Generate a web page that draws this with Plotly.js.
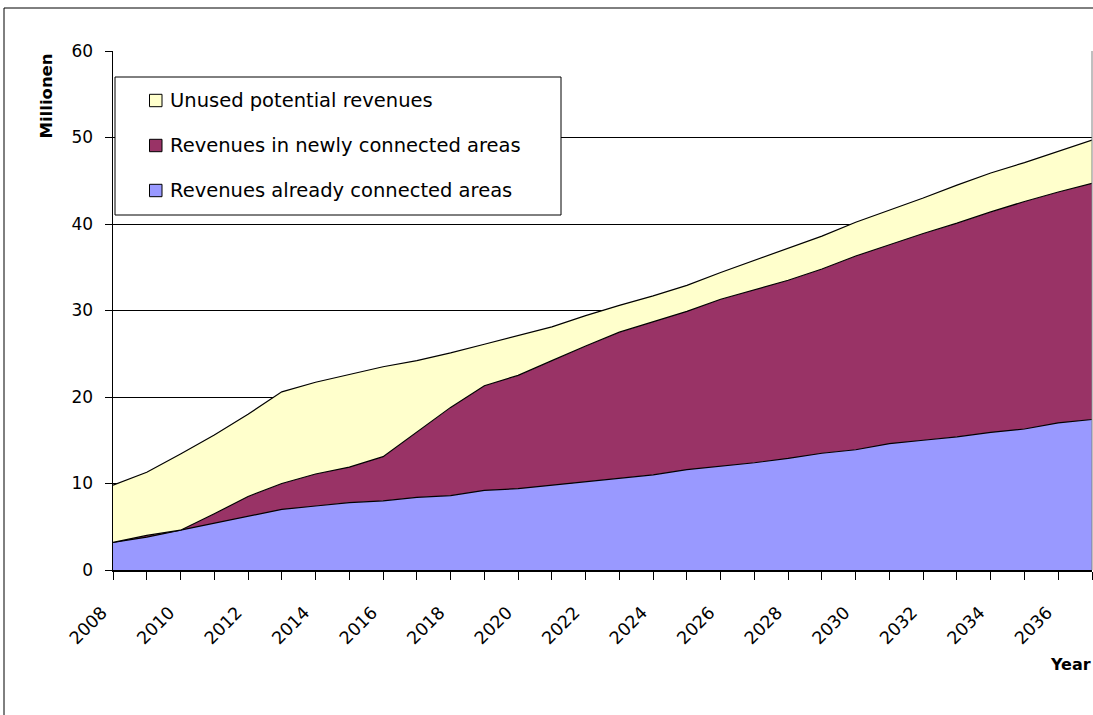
<!DOCTYPE html>
<html>
<head>
<meta charset="utf-8">
<script src="https://cdn.plot.ly/plotly-3.0.1.min.js"></script>
<style>
  html, body { margin: 0; padding: 0; background: #ffffff; overflow: hidden; }
  #chart { width: 1093px; height: 715px; }
</style>
</head>
<body>
<div id="chart"></div>
<script>
// ---- Data (values in millions) ----
const years = [2008, 2009, 2010, 2011, 2012, 2013, 2014, 2015, 2016, 2017,
               2018, 2019, 2020, 2021, 2022, 2023, 2024, 2025, 2026, 2027,
               2028, 2029, 2030, 2031, 2032, 2033, 2034, 2035, 2036, 2037];

const revenuesAlreadyConnected = [3.2, 3.8, 4.6, 5.4, 6.2, 7.0, 7.4, 7.8, 8.0, 8.4,
                                  8.6, 9.2, 9.4, 9.8, 10.2, 10.6, 11.0, 11.6, 12.0, 12.4,
                                  12.9, 13.5, 13.9, 14.6, 15.0, 15.4, 15.9, 16.3, 17.0, 17.4];

const revenuesNewlyConnected = [0.0, 0.2, 0.0, 1.1, 2.3, 3.0, 3.7, 4.1, 5.1, 7.5,
                                10.2, 12.1, 13.1, 14.4, 15.7, 16.9, 17.7, 18.3, 19.3, 20.0,
                                20.6, 21.3, 22.4, 23.0, 23.9, 24.7, 25.5, 26.3, 26.7, 27.3];

const unusedPotentialRevenues = [6.6, 7.3, 8.8, 9.1, 9.5, 10.6, 10.6, 10.7, 10.4, 8.3,
                                 6.3, 4.8, 4.6, 3.9, 3.5, 3.1, 3.0, 3.0, 3.1, 3.4,
                                 3.7, 3.8, 3.9, 4.0, 4.1, 4.4, 4.5, 4.5, 4.7, 5.0];

const seriesNames = ['Revenues already connected areas',
                     'Revenues in newly connected areas',
                     'Unused potential revenues'];

const xTickValues = [2008, 2010, 2012, 2014, 2016, 2018, 2020, 2022, 2024, 2026, 2028, 2030, 2032, 2034, 2036];
const xTickLabels = ['2008', '2010', '2012', '2014', '2016', '2018', '2020', '2022', '2024', '2026', '2028', '2030', '2032', '2034', '2036'];

const yAxisTitle = 'Millionen';
const xAxisTitle = 'Year';

// ---- Styles ----
const colors = ['#9999FF', '#993366', '#FFFFCC'];
const FONT = 'DejaVu Sans';

// plot-area geometry in pixels
const W = 1093, H = 715;
const PL = 113, PR = 1092, PT = 51, PB = 570;
const px = x => (x - PL) / (PR - PL);
const py = y => (PB - y) / (PB - PT);

const valuesList = [revenuesAlreadyConnected, revenuesNewlyConnected, unusedPotentialRevenues];

const traces = valuesList.map((vals, i) => ({
  type: 'scatter',
  mode: 'lines',
  x: years,
  y: vals,
  name: seriesNames[i],
  stackgroup: 'one',
  line: { color: '#000000', width: 1.2 },
  fillcolor: colors[i],
  hoverinfo: 'x+y+name',
  showlegend: false
}));

// ---- manual legend (box, swatches, labels) ----
const legendRows = [
  { idx: 2, cy: 100.5 },
  { idx: 1, cy: 145.5 },
  { idx: 0, cy: 190.5 }
];

const shapes = [
  // outer chart border (top and left, cut by the picture edges)
  { type: 'line', xref: 'paper', yref: 'paper', x0: px(4), x1: px(W + 5), y0: py(8), y1: py(8),
    line: { color: '#000000', width: 1 } },
  { type: 'line', xref: 'paper', yref: 'paper', x0: px(4), x1: px(4), y0: py(8), y1: py(H + 5),
    line: { color: '#000000', width: 1 } },
  // plot area right border
  { type: 'line', xref: 'paper', yref: 'paper', x0: 1, x1: 1, y0: 0, y1: 1,
    line: { color: '#808080', width: 1 } },
  // legend box
  { type: 'rect', xref: 'paper', yref: 'paper', x0: px(115), x1: px(561), y0: py(215), y1: py(77),
    line: { color: '#000000', width: 1 }, fillcolor: '#ffffff', layer: 'above' }
];

const annotations = [];

legendRows.forEach(r => {
  shapes.push({
    type: 'rect', xref: 'paper', yref: 'paper',
    x0: px(149.5), x1: px(162), y0: py(r.cy + 6.2), y1: py(r.cy - 6.2),
    line: { color: '#000000', width: 1 }, fillcolor: colors[r.idx], layer: 'above'
  });
  annotations.push({
    xref: 'paper', yref: 'paper', x: px(168), y: py(r.cy),
    xanchor: 'left', yanchor: 'middle', showarrow: false,
    text: seriesNames[r.idx],
    font: { family: FONT, size: 19.5, color: '#000000' }
  });
});

// axis titles
annotations.push({
  xref: 'paper', yref: 'paper', x: px(45.5), y: py(96),
  xanchor: 'center', yanchor: 'middle', showarrow: false, textangle: -90,
  text: '<b>' + yAxisTitle + '</b>',
  font: { family: FONT, size: 16.5, color: '#000000' }
});
annotations.push({
  xref: 'paper', yref: 'paper', x: px(1093), y: py(664),
  xanchor: 'right', yanchor: 'middle', showarrow: false,
  text: '<b>' + xAxisTitle + '</b>',
  font: { family: FONT, size: 16, color: '#000000' }
});

const layout = {
  width: W,
  height: H,
  margin: { l: PL, r: W - PR, t: PT, b: H - PB, pad: 0 },
  paper_bgcolor: '#ffffff',
  plot_bgcolor: '#ffffff',
  showlegend: false,
  font: { family: FONT, color: '#000000' },
  xaxis: {
    type: 'linear',
    range: [2008, 2037],
    tickmode: 'array',
    tickvals: xTickValues,
    ticktext: xTickLabels,
    tickangle: -45,
    ticks: 'outside',
    ticklen: 8,
    tickcolor: '#000000',
    tickwidth: 1,
    ticklabelstandoff: 16,
    ticklabelshift: -11,
    tickfont: { family: FONT, size: 17.5, color: '#000000' },
    minor: { tickmode: 'array', tickvals: years, ticks: 'outside', ticklen: 8, tickcolor: '#000000', tickwidth: 1, showgrid: false },
    showgrid: false,
    zeroline: false,
    showline: true,
    linecolor: '#000000',
    linewidth: 1.5,
    fixedrange: true
  },
  yaxis: {
    range: [0, 60],
    tick0: 0,
    dtick: 10,
    ticks: 'outside',
    ticklen: 7,
    tickcolor: '#000000',
    tickwidth: 1,
    ticklabelstandoff: 8,
    tickfont: { family: FONT, size: 17, color: '#000000' },
    showgrid: true,
    gridcolor: '#000000',
    gridwidth: 1,
    zeroline: false,
    showline: true,
    linecolor: '#000000',
    linewidth: 1.5,
    fixedrange: true
  },
  shapes: shapes,
  annotations: annotations
};

Plotly.newPlot('chart', traces, layout, { displayModeBar: false, staticPlot: true });
</script>
</body>
</html>
